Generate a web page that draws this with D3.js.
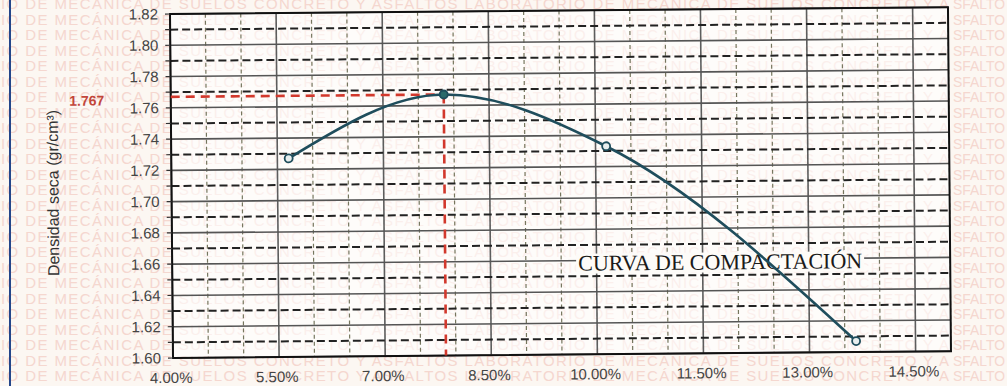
<!DOCTYPE html>
<html><head><meta charset="utf-8">
<script src="https://cdn.jsdelivr.net/npm/d3@7/dist/d3.min.js"></script>
<style>
html,body{margin:0;padding:0;background:#fcf7f2;}
svg{display:block;}
</style></head>
<body>
<svg id="chart" width="1007" height="386"></svg>
<script>
// ---- data ----
const moisture = [5.66, 7.86, 10.15, 13.66];      // % humedad
const density  = [1.727, 1.767, 1.733, 1.607];    // gr/cm3
const maxDensityLabel = ["1.767"];
const optimumMoisture = [7.86];
const maxDensity = [1.767];
const xTickValues = [4.0, 5.5, 7.0, 8.5, 10.0, 11.5, 13.0, 14.5];
const xTickLabels = ["4.00%", "5.50%", "7.00%", "8.50%", "10.00%", "11.50%", "13.00%", "14.50%"];
const yTickValues = [1.60, 1.62, 1.64, 1.66, 1.68, 1.70, 1.72, 1.74, 1.76, 1.78, 1.80, 1.82];
const yTickLabels = ["1.60", "1.62", "1.64", "1.66", "1.68", "1.70", "1.72", "1.74", "1.76", "1.78", "1.80", "1.82"];
const curveLabel = ["CURVA DE COMPACTACIÓN"];
const yTitle = ["Densidad seca (gr/cm³)"];
const watermarkRow = ["IO DE MECÁNICA DE SUELOS CONCRETO Y ASFALTOS LABORATORIO DE MECÁNICA DE SUELOS CONCRETO Y A"];
const watermarkEnd = ["SFALTO"];

// ---- layout ----
const W = 1007, H = 386;
const L = 170, T = 14, PW = 778, PH = 344;
const svg = d3.select("#chart");

const x = d3.scaleLinear().domain([4, 15]).range([L, L + PW]);
const y = d3.scaleLinear().domain([1.60, 1.82]).range([T + PH, T]);

// watermark
const wm = svg.append("g").attr("fill", "#f1c2b8").attr("opacity", 0.6)
  .style("font-family", "Liberation Sans, Arial, sans-serif").style("font-size", "15px");
for (let i = 0; i < 25; i++) {
  wm.append("text").attr("x", 1).attr("y", 9 + i * 15.5)
    .attr("textLength", 948).attr("lengthAdjust", "spacing").text(watermarkRow[0]);
  wm.append("text").attr("x", 953).attr("y", 9 + i * 15.5)
    .attr("textLength", 52).attr("lengthAdjust", "spacingAndGlyphs").text(watermarkEnd[0]);
}

// page border line
svg.append("line").attr("x1", 10).attr("x2", 10).attr("y1", 0).attr("y2", H)
  .attr("stroke", "#24468a").attr("stroke-width", 2);

const g = svg.append("g").attr("transform", `rotate(-0.5, ${L}, ${T})`);

// plot background veil
g.append("rect").attr("x", L).attr("y", T).attr("width", PW).attr("height", PH)
  .attr("fill", "#ffffff").attr("opacity", 0.6);

// vertical grid
const vLines = d3.range(0, 23).map(i => 4 + i * 0.5);
const isMajorX = d => Math.round((d - 4) * 2) % 3 === 0;
g.append("g").selectAll("line").data(vLines).join("line")
  .attr("x1", d => x(d)).attr("x2", d => x(d)).attr("y1", T).attr("y2", T + PH)
  .attr("stroke", d => isMajorX(d) ? "#5d5d5d" : "#76765e")
  .attr("stroke-width", d => isMajorX(d) ? 1.6 : 1.2)
  .attr("stroke-dasharray", d => isMajorX(d) ? null : "4,3");

// horizontal grid
const hLines = d3.range(0, 23).map(i => 1.60 + i * 0.01);
g.append("g").selectAll("line").data(hLines).join("line")
  .attr("x1", L).attr("x2", L + PW).attr("y1", d => y(d)).attr("y2", d => y(d))
  .attr("stroke", (d, i) => i % 2 === 0 ? "#555" : "#222")
  .attr("stroke-width", (d, i) => i % 2 === 0 ? 1.6 : 2)
  .attr("stroke-dasharray", (d, i) => i % 2 === 0 ? null : "8,4");

// border
g.append("rect").attr("x", L).attr("y", T).attr("width", PW).attr("height", PH)
  .attr("fill", "none").attr("stroke", "#111").attr("stroke-width", 2);

// y ticks
g.append("g").selectAll("line").data(hLines).join("line")
  .attr("x1", L - 5).attr("x2", L).attr("y1", d => y(d)).attr("y2", d => y(d))
  .attr("stroke", "#333").attr("stroke-width", 1.2);
g.append("g").selectAll("text").data(yTickValues).join("text")
  .attr("x", L - 12).attr("y", d => y(d)).attr("dy", "0.35em")
  .attr("text-anchor", "end").attr("fill", "#444")
  .style("font-family", "Liberation Sans, Arial, sans-serif").style("font-size", "15px")
  .text((d, i) => yTickLabels[i]);

// x labels
g.append("g").selectAll("text").data(xTickValues).join("text")
  .attr("x", d => x(d) - 2).attr("y", T + PH + 25)
  .attr("text-anchor", "middle").attr("fill", "#444")
  .style("font-family", "Liberation Sans, Arial, sans-serif").style("font-size", "15px")
  .text((d, i) => xTickLabels[i]);

// y title
g.append("text")
  .attr("transform", `translate(57, ${y(1.71) + 6}) rotate(-90)`)
  .attr("text-anchor", "middle").attr("fill", "#333")
  .style("font-family", "Liberation Sans, Arial, sans-serif").style("font-size", "16px")
  .text(yTitle[0]);

// red reference lines
g.append("path")
  .attr("d", `M${x(4)},${y(maxDensity[0])}H${x(optimumMoisture[0])}`)
  .attr("stroke", "#d2382c").attr("stroke-width", 2.6).attr("fill", "none")
  .attr("stroke-dasharray", "9,6");
g.append("path")
  .attr("d", `M${x(optimumMoisture[0])},${y(maxDensity[0])}V${y(1.60)}`)
  .attr("stroke", "#d2382c").attr("stroke-width", 2.6).attr("fill", "none")
  .attr("stroke-dasharray", "9,6");
g.append("text").attr("x", 86).attr("y", y(maxDensity[0]) + 8)
  .attr("text-anchor", "middle").attr("fill", "#c2463a").attr("font-weight", "bold")
  .style("font-family", "Liberation Sans, Arial, sans-serif").style("font-size", "14px")
  .text(maxDensityLabel[0]);

// curve label with light background
const lblX = x(9.74), lblY = y(1.66) + 10;
g.append("rect").attr("x", lblX - 2).attr("y", lblY - 17).attr("width", 288).attr("height", 20)
  .attr("fill", "#fdfbf8");
g.append("text").attr("x", lblX).attr("y", lblY)
  .attr("fill", "#1a1a1a")
  .attr("textLength", 284).attr("lengthAdjust", "spacingAndGlyphs")
  .style("font-family", "Liberation Serif, Times New Roman, serif").style("font-size", "22px")
  .text(curveLabel[0]);

// curve
const pts = moisture.map((m, i) => [m, density[i]]);
const line = d3.line().x(d => x(d[0])).y(d => y(d[1])).curve(d3.curveMonotoneX);
g.append("path").datum(pts).attr("d", line)
  .attr("fill", "none").attr("stroke", "#1f4d5c").attr("stroke-width", 2.6);

// markers
g.append("g").selectAll("circle").data(pts).join("circle")
  .attr("cx", d => x(d[0])).attr("cy", d => y(d[1])).attr("r", 4)
  .attr("fill", (d, i) => i === 1 ? "#2a6a6a" : "#e8eeee")
  .attr("stroke", "#1f4d5c").attr("stroke-width", 1.8);
</script>
</body></html>
